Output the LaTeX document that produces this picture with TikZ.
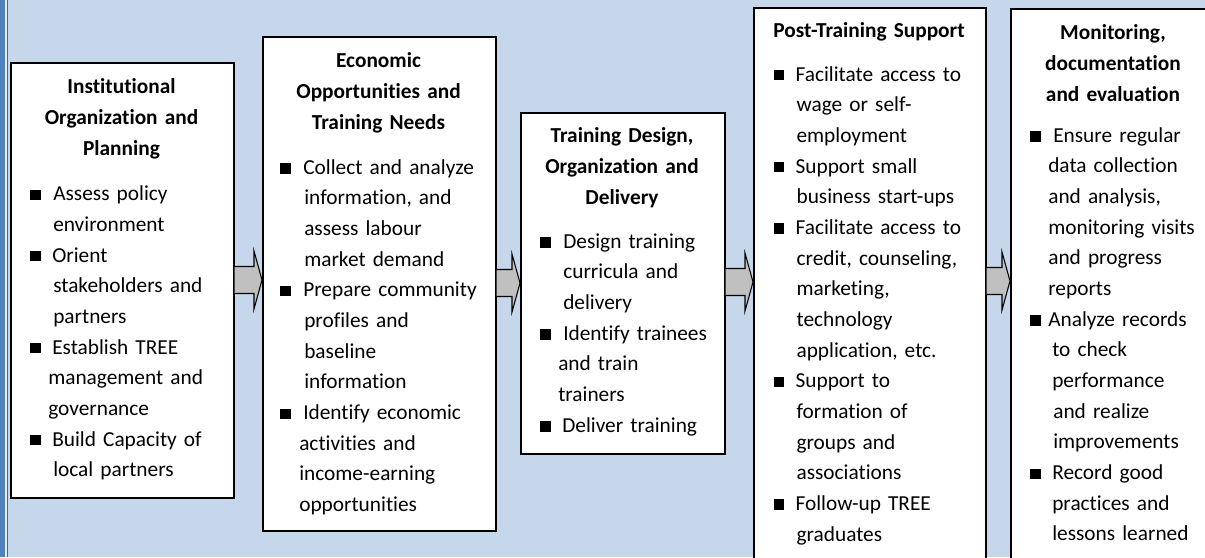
\documentclass[tikz,border=0pt]{standalone}
\usepackage{fontspec}
\setmainfont{Carlito}[Ligatures={NoCommon}]
\usetikzlibrary{calc}

% one screen pixel
\newdimen\pxu \pxu=0.75pt

\definecolor{bgblue}{RGB}{198,215,235}
\definecolor{edgeblue}{RGB}{79,129,189}
\definecolor{arrowgray}{RGB}{192,192,192}

% bullet line: square bullet, text indented by #1 pixels
\newcommand\bl[2]{\makebox[0pt][l]{\raisebox{0.5pt}{\rule{7.7pt}{7.7pt}}}\hspace*{#1\pxu}#2}
% continuation line of a bullet, indented by #1 pixels
\newcommand\cl[2]{\hspace*{#1\pxu}#2}

\tikzset{
  stagebox/.style={draw=black, line width=1.2pt, fill=white, rectangle,
    inner sep=0pt, anchor=north west},
  heading/.style={font=\fontsize{16pt}{23.25pt}\selectfont\bfseries,
    align=center, text width=180pt, inner sep=0pt, anchor=base},
  itemlist/.style={font=\fontsize{16pt}{23pt}\selectfont,
    align=left, text width=200pt, inner sep=0pt, anchor=base west},
  flowarrow/.style={draw=black, line width=0.8pt, fill=arrowgray, line join=miter},
}

% stage box: name, left, top, right, bottom (pixels)
\newcommand\stage[5]{%
  \node[stagebox, minimum width={(#4-#2)*0.75pt}, minimum height={(#5-#3)*0.75pt}]
    (#1) at (#2,#3) {};}

% block arrow from one stage to the next, centred on row #3
\newcommand\flow[3]{%
  \coordinate (r) at (0,#3);
  \coordinate (s) at (#1.east |- r);
  \coordinate (t) at (#2.west |- r);
  \draw[flowarrow] ($(s)+(0,-13.5)$) -- ($(t)+(-8,-13.5)$) -- ($(t)+(-8,-29)$)
    -- (t) -- ($(t)+(-8,29)$) -- ($(t)+(-8,13.5)$) -- ($(s)+(0,13.5)$);}

\begin{document}
\begin{tikzpicture}[x=0.75pt,y=-0.75pt]
\useasboundingbox (0,0) rectangle (1205,557);
\clip (0,0) rectangle (1205,557);

% page background and left border strip
\fill[bgblue] (0,0) rectangle (1205,557);
\fill[edgeblue] (0,0) rectangle (5,557);
\fill[white!60!bgblue] (5,0) rectangle (7,557);
\draw[edgeblue!80!black, line width=0.75pt] (7.5,0) -- (7.5,557);

% the five stages
\stage{b1}{10}{62}{233}{497}
\stage{b2}{262}{36}{495}{530}
\stage{b3}{520}{112}{724}{453}
\stage{b4}{753}{7}{985}{600}
\stage{b5}{1010}{8}{1216}{600}

% connectors
\flow{b1}{b2}{280}
\flow{b2}{b3}{283}
\flow{b3}{b4}{282}
\flow{b4}{b5}{281}

% stage 1
\node[heading] (h1) at (121.5,93) {Institutional\\Organization and\\Planning};
\node[itemlist] (l1) at (30,200.7) {%
  \bl{23}{Assess policy}\\
  \cl{23}{environment}\\
  \bl{22}{Orient}\\
  \cl{23}{stakeholders and}\\
  \cl{23}{partners}\\
  \bl{22}{Establish TREE}\\
  \cl{18}{management and}\\
  \cl{18}{governance}\\
  \bl{22}{Build Capacity of}\\
  \cl{23}{local partners}};

% stage 2
\node[heading] (h2) at (378.5,67) {Economic\\Opportunities and\\Training Needs};
\node[itemlist] (l2) at (280,174.3) {%
  \bl{23}{Collect and analyze}\\
  \cl{24}{information, and}\\
  \cl{24}{assess labour}\\
  \cl{24}{market demand}\\
  \bl{23}{Prepare community}\\
  \cl{24}{profiles and}\\
  \cl{24}{baseline}\\
  \cl{24}{information}\\
  \bl{23}{Identify economic}\\
  \cl{19}{activities and}\\
  \cl{19}{income-earning}\\
  \cl{19}{opportunities}};

% stage 3
\node[heading] (h3) at (622,142) {Training Design,\\Organization and\\Delivery};
\node[itemlist] (l3) at (540,248.3) {%
  \bl{23}{Design training}\\
  \cl{23}{curricula and}\\
  \cl{23}{delivery}\\
  \bl{23}{Identify trainees}\\
  \cl{18}{and train}\\
  \cl{18}{trainers}\\
  \bl{22}{Deliver training}};

% stage 4
\node[heading] (h4) at (869,37.7) {Post-Training Support};
\node[itemlist] (l4) at (773.3,81) {%
  \bl{22}{Facilitate access to}\\
  \cl{23}{wage or self-}\\
  \cl{23}{employment}\\
  \bl{22}{Support small}\\
  \cl{23}{business start-ups}\\
  \bl{22}{Facilitate access to}\\
  \cl{23}{credit, counseling,}\\
  \cl{23}{marketing,}\\
  \cl{23}{technology}\\
  \cl{23}{application, etc.}\\
  \bl{22}{Support to}\\
  \cl{23}{formation of}\\
  \cl{23}{groups and}\\
  \cl{23}{associations}\\
  \bl{22}{Follow-up TREE}\\
  \cl{23}{graduates}};

% stage 5
\node[heading] (h5) at (1113,39) {Monitoring,\\documentation\\and evaluation};
\node[itemlist] (l5) at (1030,142.3) {%
  \bl{23}{Ensure regular}\\
  \cl{18}{data collection}\\
  \cl{18}{and analysis,}\\
  \cl{18}{monitoring visits}\\
  \cl{18}{and progress}\\
  \cl{18}{reports}\\
  \bl{18}{Analyze records}\\
  \cl{22}{to check}\\
  \cl{22}{performance}\\
  \cl{23}{and realize}\\
  \cl{23}{improvements}\\
  \bl{22}{Record good}\\
  \cl{22}{practices and}\\
  \cl{22}{lessons learned}};
\end{tikzpicture}
\end{document}
